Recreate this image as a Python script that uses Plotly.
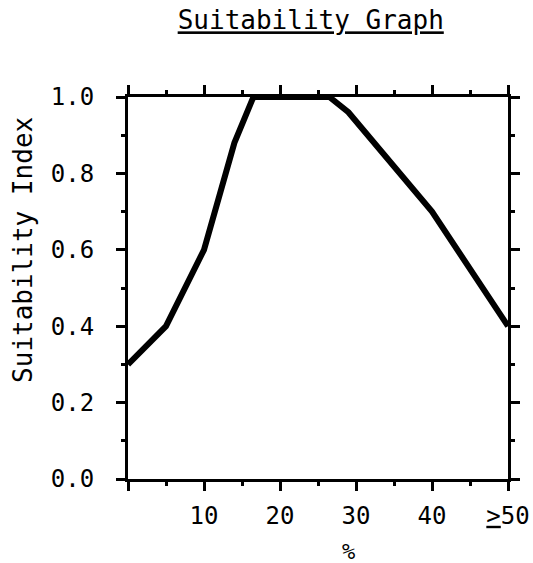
import plotly.graph_objects as go

percent = [0, 5, 10, 14, 16.5, 26.5, 29, 40, 50]
suitability = [0.3, 0.4, 0.6, 0.88, 1.0, 1.0, 0.96, 0.7, 0.4]

x_tick_vals = [0, 10, 20, 30, 40, 50]
x_tick_text = ["", "10", "20", "30", "40", "<u>&gt;</u>50"]
y_tick_vals = [0.0, 0.2, 0.4, 0.6, 0.8, 1.0]
y_tick_text = ["0.0", "0.2", "0.4", "0.6", "0.8", "1.0"]

FONT = "DejaVu Sans Mono"

fig = go.Figure()
fig.add_trace(go.Scatter(
    x=percent, y=suitability, mode="lines",
    line=dict(color="black", width=6), hoverinfo="skip", showlegend=False,
))

fig.add_annotation(
    text="Suitability Index", textangle=-90, showarrow=False,
    xref="paper", yref="paper", x=-0.276, y=0.6,
    xanchor="center", yanchor="middle",
    font=dict(family=FONT, size=26, color="black"),
)
fig.add_annotation(
    text="%", showarrow=False,
    xref="paper", yref="paper", x=0.579, y=-0.19,
    xanchor="center", yanchor="middle",
    font=dict(family=FONT, size=22, color="black"),
)

fig.update_layout(
    width=533, height=563,
    margin=dict(l=128, r=25, t=97, b=84),
    paper_bgcolor="white", plot_bgcolor="white",
    font=dict(family=FONT, color="black", size=20),
    title=dict(text="<u>Suitability Graph</u>", x=0.583, xanchor="center",
               y=0.964, yanchor="middle", font=dict(family=FONT, size=26)),
    xaxis=dict(
        range=[0, 50], showgrid=False, zeroline=False, automargin=False,
        showline=True, linecolor="black", linewidth=3, mirror="ticks",
        ticks="outside", ticklen=9, tickwidth=3, tickcolor="black",
        tickvals=x_tick_vals, ticktext=x_tick_text,
        tickfont=dict(family=FONT, size=24),
        ticklabelstandoff=4,
        minor=dict(dtick=5, tick0=0, ticks="outside", ticklen=4, tickwidth=3, tickcolor="black"),
    ),
    yaxis=dict(
        range=[0, 1.0], showgrid=False, zeroline=False, automargin=False,
        showline=True, linecolor="black", linewidth=3, mirror="ticks",
        ticks="outside", ticklen=9, tickwidth=3, tickcolor="black",
        tickvals=y_tick_vals, ticktext=y_tick_text,
        tickfont=dict(family=FONT, size=24),
        ticklabelstandoff=17,
        minor=dict(dtick=0.1, tick0=0, ticks="outside", ticklen=4, tickwidth=3, tickcolor="black"),
    ),
)

fig.write_html(
    "out.html",
    config={"displayModeBar": False},
    post_script="document.body.style.margin='0';document.body.style.overflow='hidden';",
)
